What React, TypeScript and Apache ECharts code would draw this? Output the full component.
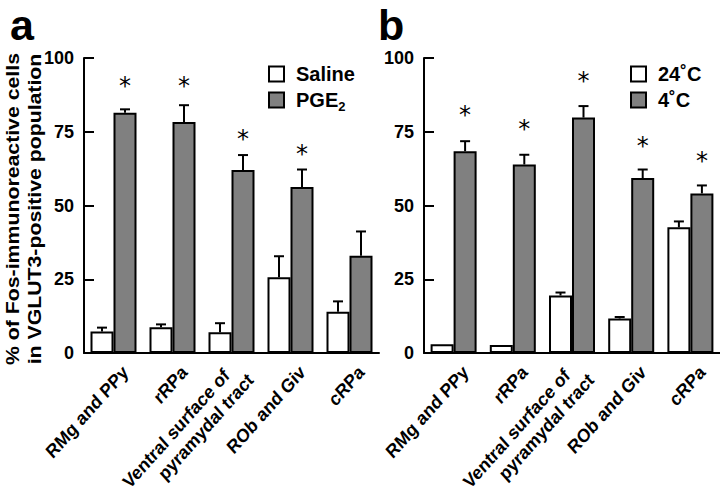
import React, { useEffect, useRef } from "react";
import * as echarts from "echarts";

const categories = ["RMg and PPy", "rRPa", "Ventral surface of\npyramydal tract", "ROb and Giv", "cRPa"];
const yTicks = [0, 25, 50, 75, 100];

const salineMean = [7.3, 8.7, 7.0, 25.7, 14.0];
const salineErr = [1.3, 1.0, 3.1, 7.1, 3.5];
const pgeMean = [81.4, 78.3, 62.0, 56.3, 33.0];
const pgeErr = [1.2, 5.7, 5.1, 5.9, 8.2];

const warmMean = [3.0, 2.7, 19.5, 11.7, 42.6];
const warmErr = [0, 0, 1.0, 0.5, 2.0];
const coldMean = [68.4, 63.9, 79.8, 59.3, 54.1];
const coldErr = [3.4, 3.3, 3.9, 2.9, 2.7];

const starsA = [93, 93, 75, 70, null];
const starsB = [83, 78.3, 94.6, 72.4, 67.3];

const FONT = '"Liberation Sans", Arial, Helvetica, sans-serif';
const GRAY = "#808080";
const BAR_W = 23;
const STRETCH = 1.12;

function errSeries(idx: number, means: number[], errs: number[], offset: number) {
  return {
    type: "custom",
    xAxisIndex: idx,
    yAxisIndex: idx,
    z: 5,
    clip: false,
    silent: true,
    data: means.map((m, i) => [i, m, errs[i]]),
    renderItem: (params: any, api: any) => {
      const i = api.value(0);
      const m = api.value(1);
      const e = api.value(2);
      if (!e) return { type: "group", children: [] };
      const b = api.coord([i, m]);
      const t = api.coord([i, m + e]);
      const x = b[0] + offset;
      return {
        type: "group",
        children: [
          { type: "line", shape: { x1: x, y1: b[1], x2: x, y2: t[1] }, style: { stroke: "#000", lineWidth: 2 } },
          { type: "line", shape: { x1: x - 5, y1: t[1], x2: x + 5, y2: t[1] }, style: { stroke: "#000", lineWidth: 2 } },
        ],
      };
    },
  };
}

function starSeries(idx: number, stars: (number | null)[]) {
  return {
    type: "custom",
    xAxisIndex: idx,
    yAxisIndex: idx,
    z: 6,
    clip: false,
    silent: true,
    data: stars.map((s, i) => (s == null ? null : [i, s])).filter((d) => d !== null),
    renderItem: (params: any, api: any) => {
      const p = api.coord([api.value(0), api.value(1)]);
      return {
        type: "text",
        x: p[0] + BAR_W / 2,
        y: p[1] + 7,
        style: { text: "*", fill: "#000", font: `24px "DejaVu Sans", ${FONT}`, align: "center", verticalAlign: "middle" },
      };
    },
  };
}

function labelText(label: string) {
  const lines = label.split("\n");
  if (lines.length === 1) return `{o|${lines[0]}}`;
  return lines.map((l, k) => (k < lines.length - 1 ? `{f|${l}}` : `{o|${l}}`)).join("\n");
}

function labelSeries(idx: number) {
  const base = { fontFamily: FONT, fontWeight: "bold", fontSize: 17, color: "#000", lineHeight: 20 };
  return {
    type: "custom",
    xAxisIndex: idx,
    yAxisIndex: idx,
    z: 6,
    clip: false,
    silent: true,
    data: categories.map((_, i) => [i, 0]),
    renderItem: (params: any, api: any) => {
      const p = api.coord([api.value(0), 0]);
      return {
        type: "group",
        x: p[0] + 12,
        y: p[1] + 16,
        scaleY: STRETCH,
        children: [
          {
            type: "text",
            x: 0,
            y: 0,
            rotation: Math.PI / 4,
            style: {
              text: labelText(categories[params.dataIndex]),
              align: "right",
              verticalAlign: "middle",
              rich: {
                o: base,
                f: { ...base, padding: [0, 14, 0, 0] },
              },
            },
          },
        ],
      };
    },
  };
}

function barSeries(name: string, idx: number, data: number[], color: string) {
  return {
    name,
    type: "bar",
    xAxisIndex: idx,
    yAxisIndex: idx,
    data,
    barWidth: BAR_W,
    barGap: "0%",
    z: 3,
    itemStyle: { color, borderColor: "#000", borderWidth: 2 },
  };
}

const richLegend = {
  m: { fontSize: 20, fontWeight: "bold", fontFamily: FONT, color: "#000", lineHeight: 20, padding: [0, 0, 0, 7] },
  s: { fontSize: 13, fontWeight: "bold", fontFamily: FONT, color: "#000", lineHeight: 12, verticalAlign: "top", padding: [10, 0, 0, 0] },
};

function legendCfg(names: string[], left: number) {
  return {
    data: names,
    orient: "vertical",
    left,
    top: 64,
    padding: 0,
    itemWidth: 15,
    itemHeight: 15,
    itemGap: 6,
    icon: "rect",
    selectedMode: false,
    itemStyle: { borderColor: "#000", borderWidth: 2 },
    formatter: (n: string) => (n === "PGE2" ? "{m|PGE}{s|2}" : `{m|${n}}`),
    textStyle: { rich: richLegend },
  };
}

function yAxisCfg(idx: number) {
  return {
    type: "value",
    gridIndex: idx,
    min: yTicks[0],
    max: yTicks[yTicks.length - 1],
    interval: yTicks[1] - yTicks[0],
    axisLine: { show: true, lineStyle: { color: "#000", width: 2 } },
    axisTick: { show: true, inside: true, length: 10, lineStyle: { color: "#000", width: 2 } },
    axisLabel: { color: "#000", fontFamily: FONT, fontWeight: "bold", fontSize: 18, margin: 10 },
    splitLine: { show: false },
  };
}

function xAxisCfg(idx: number) {
  return {
    type: "category",
    gridIndex: idx,
    data: categories,
    axisLine: { show: true, lineStyle: { color: "#000", width: 2 } },
    axisTick: { show: false },
    axisLabel: { show: false },
  };
}

export default function App() {
  const ref = useRef<HTMLDivElement>(null);
  useEffect(() => {
    if (!ref.current) return;
    const chart = echarts.init(ref.current, null, { renderer: "svg" });
    chart.setOption({
      animation: false,
      backgroundColor: "#fff",
      grid: [
        { left: 84, top: 58, width: 295, height: 295 },
        { left: 424, top: 58, width: 296, height: 295 },
      ],
      xAxis: [xAxisCfg(0), xAxisCfg(1)],
      yAxis: [yAxisCfg(0), yAxisCfg(1)],
      legend: [legendCfg(["Saline", "PGE2"], 268), legendCfg(["24˚C", "4˚C"], 630)],
      graphic: [
        { type: "text", x: 10, y: 24.5, style: { text: "a", font: `bold 43px ${FONT}`, fill: "#000", verticalAlign: "middle", align: "left", lineHeight: 40 } },
        { type: "text", x: 378, y: 24.5, style: { text: "b", font: `bold 43px ${FONT}`, fill: "#000", verticalAlign: "middle", align: "left", lineHeight: 40 } },
        {
          type: "text",
          x: 23.5,
          y: 209,
          rotation: Math.PI / 2,
          scaleX: STRETCH,
          style: {
            text: "% of Fos-immunoreactive cells\nin VGLUT3-positive population",
            font: `bold 19px ${FONT}`,
            fill: "#000",
            align: "center",
            verticalAlign: "middle",
            lineHeight: 22,
          },
        },
      ],
      series: [
        barSeries("Saline", 0, salineMean, "#fff"),
        barSeries("PGE2", 0, pgeMean, GRAY),
        barSeries("24˚C", 1, warmMean, "#fff"),
        barSeries("4˚C", 1, coldMean, GRAY),
        errSeries(0, salineMean, salineErr, -BAR_W / 2),
        errSeries(0, pgeMean, pgeErr, BAR_W / 2),
        errSeries(1, warmMean, warmErr, -BAR_W / 2),
        errSeries(1, coldMean, coldErr, BAR_W / 2),
        starSeries(0, starsA),
        starSeries(1, starsB),
        labelSeries(0),
        labelSeries(1),
      ],
    });
    return () => chart.dispose();
  }, []);
  return <div ref={ref} style={{ position: "fixed", left: 0, top: 0, width: 720, height: 502 }} />;
}
